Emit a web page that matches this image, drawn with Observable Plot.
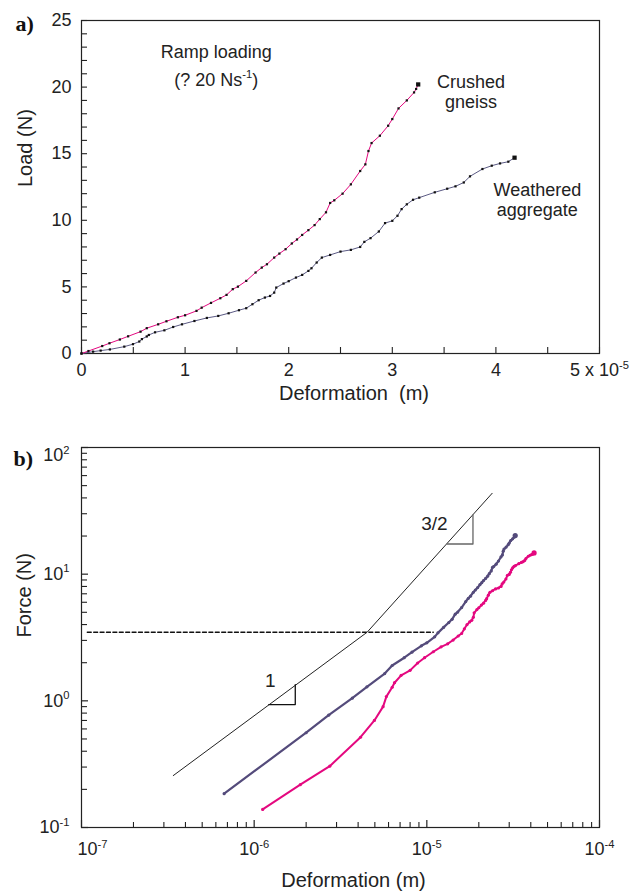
<!DOCTYPE html>
<html><head><meta charset="utf-8">
<script src="https://cdn.jsdelivr.net/npm/d3@7"></script>
<script src="https://cdn.jsdelivr.net/npm/@observablehq/plot@0.6"></script>
<style>
html,body{margin:0;padding:0;background:#fff;}
#wrap{position:relative;width:642px;height:892px;overflow:hidden;background:#fff;}
#wrap svg{position:absolute;left:0;}
</style></head><body><div id="wrap"></div>
<script>
// ---- data (deformation in units of 1e-5 m, load in N) ----
const gneissDef = [0, 0.067, 0.20, 0.27, 0.37, 0.45, 0.57, 0.63, 0.74, 0.82, 0.93, 1.00, 1.11, 1.16, 1.25, 1.34, 1.40, 1.46, 1.51, 1.59, 1.68, 1.74, 1.79, 1.86, 1.91, 1.97, 2.03, 2.08, 2.13, 2.19, 2.25, 2.30, 2.36, 2.40, 2.44, 2.52, 2.60, 2.69, 2.74, 2.77, 2.80, 2.88, 2.96, 3.00, 3.06, 3.14, 3.21, 3.23, 3.25];
const gneissLoad = [0, 0.185, 0.56, 0.77, 1.05, 1.29, 1.64, 1.90, 2.19, 2.42, 2.72, 2.87, 3.20, 3.44, 3.80, 4.15, 4.40, 4.83, 5.02, 5.45, 6.08, 6.45, 6.70, 7.20, 7.50, 7.83, 8.26, 8.56, 8.90, 9.26, 9.64, 10.09, 10.60, 11.30, 11.50, 12.00, 12.70, 13.70, 14.20, 15.20, 15.80, 16.35, 17.10, 17.60, 18.40, 19.00, 19.60, 19.86, 20.20];
const weatheredDef = [0, 0.112, 0.185, 0.274, 0.413, 0.497, 0.558, 0.583, 0.63, 0.65, 0.71, 0.80, 0.885, 0.97, 1.09, 1.21, 1.32, 1.42, 1.52, 1.59, 1.65, 1.71, 1.77, 1.82, 1.86, 1.88, 1.95, 2.00, 2.07, 2.13, 2.19, 2.22, 2.27, 2.32, 2.40, 2.50, 2.60, 2.69, 2.73, 2.79, 2.87, 2.93, 3.00, 3.05, 3.09, 3.14, 3.20, 3.26, 3.41, 3.53, 3.61, 3.69, 3.75, 3.87, 3.96, 4.04, 4.12, 4.18];
const weatheredLoad = [0, 0.139, 0.218, 0.305, 0.516, 0.70, 0.90, 1.08, 1.28, 1.39, 1.59, 1.74, 1.99, 2.19, 2.44, 2.67, 2.82, 3.02, 3.25, 3.40, 3.70, 4.00, 4.20, 4.32, 4.57, 4.95, 5.25, 5.43, 5.70, 5.90, 6.20, 6.40, 6.83, 7.20, 7.40, 7.65, 7.78, 8.00, 8.38, 8.66, 9.16, 9.79, 9.96, 10.34, 10.84, 11.20, 11.54, 11.70, 12.10, 12.37, 12.55, 12.84, 13.30, 13.85, 14.10, 14.27, 14.40, 14.70];

// guide lines of the log panel (deformation in m, force in N)
const guideDef = [3.4e-7, 4.51e-6, 2.39e-5];
const guideForce = [0.257, 3.48, 43.5];
const transitionForce = 3.48;
const transitionDef = [1.08e-7, 1.09e-5];
const slope1Def = [1.215e-6, 1.73e-6, 1.73e-6];
const slope1Force = [0.935, 0.935, 1.34];
const slope32Def = [1.31e-5, 1.85e-5, 1.85e-5];
const slope32Force = [17.3, 17.3, 29.4];

// tick values
const topXTicks = [0, 1, 2, 3, 4, 5];
const topYTicks = [0, 5, 10, 15, 20, 25];
const logXTicks = [1e-7, 1e-6, 1e-5, 1e-4];
const logYTicks = [0.1, 1, 10, 100];

// ---- build ----
const FONT = '"Liberation Sans", Arial, Helvetica, sans-serif';
const SERIF = '"Liberation Serif", "Times New Roman", serif';
const W = 642;
const MAGENTA = "#e4087f";
const PURPLE = "#544b7b";
const INK = "#222";

const gneiss = gneissDef.map((d, i) => ({def: d, load: gneissLoad[i]}));
const weathered = weatheredDef.map((d, i) => ({def: d, load: weatheredLoad[i]}));
const toLog = arr => arr.filter(d => d.def > 0).map(d => ({def: d.def * 1e-5, load: d.load}));
const gneissLog = toLog(gneiss);
const weatheredLog = toLog(weathered);
const guide = guideDef.map((d, i) => ({def: d, load: guideForce[i]}));
const dashed = transitionDef.map(d => ({def: d, load: transitionForce}));
const tri1 = slope1Def.map((d, i) => ({def: d, load: slope1Force[i]}));
const tri32 = slope32Def.map((d, i) => ({def: d, load: slope32Force[i]}));

const wrap = document.getElementById("wrap");

// --- panel a ---
const TH = 420, tTop = 20, tBottom = 67, tLeft = 81, tRight = 43;
const tInnerH = TH - tTop - tBottom, tInnerW = W - tLeft - tRight;
const topNotes = [
  {x: 1.30, y: 22.65, text: "Ramp loading"},
  {x: 1.30, y: 20.55, text: "(? 20 Ns^{-1})"},
  {x: 3.76, y: 20.40, text: "Crushed"},
  {x: 3.76, y: 18.90, text: "gneiss"},
  {x: 4.40, y: 12.28, text: "Weathered"},
  {x: 4.40, y: 10.77, text: "aggregate"}
];
const topPlot = Plot.plot({
  width: W, height: TH,
  marginLeft: tLeft, marginRight: tRight, marginTop: tTop, marginBottom: tBottom,
  style: {fontFamily: FONT, fontSize: "18px", color: INK, background: "#fff", overflow: "visible"},
  x: {domain: [0, 5]},
  y: {domain: [0, 25]},
  marks: [
    Plot.tickX(d3.range(0, 5.01, 0.5), {x: d => d, insetTop: tInnerH - 6, stroke: INK, strokeWidth: 1.1}),
    Plot.tickY(d3.range(0, 25.01, 1), {y: d => d, insetRight: tInnerW - 6, stroke: INK, strokeWidth: 1.1}),
    Plot.axisX(topXTicks, {tickSize: 0, tickPadding: 10, label: null, fontSize: 18,
      tickFormat: d => d === 5 ? "5 x 10^{-5}" : String(d)}),
    Plot.axisY(topYTicks, {tickSize: 0, tickPadding: 10, label: null, fontSize: 18, tickFormat: d => String(d)}),
    Plot.frame({stroke: INK, strokeWidth: 1.2}),
    Plot.line(weathered, {x: "def", y: "load", stroke: "#5b5a84", strokeWidth: 1}),
    Plot.line(gneiss, {x: "def", y: "load", stroke: MAGENTA, strokeWidth: 1}),
    Plot.dot(weathered, {x: "def", y: "load", symbol: "square", r: 1.25, fill: "#111"}),
    Plot.dot(gneiss, {x: "def", y: "load", symbol: "square", r: 1.25, fill: "#111"}),
    Plot.dot([weathered[weathered.length - 1], gneiss[gneiss.length - 1]], {x: "def", y: "load", symbol: "square", r: 2.4, fill: "#111"}),
    Plot.text(topNotes, {x: "x", y: "y", text: "text", fontSize: 18, fill: INK}),
    Plot.text(["Deformation \u00a0(m)"], {frameAnchor: "bottom", lineAnchor: "middle", dy: 40, dx: 13.5, text: d => d, fontSize: 20, fill: INK}),
    Plot.text(["Load (N)"], {frameAnchor: "left", lineAnchor: "middle", dx: -56, rotate: -90, text: d => d, fontSize: 20, fill: INK}),
    Plot.text(["a)"], {frameAnchor: "top-left", lineAnchor: "middle", dx: -66, dy: 3, textAnchor: "start", text: d => d,
      fontFamily: SERIF, fontWeight: "bold", fontSize: 22, fill: "#111"})
  ]
});
topPlot.style.top = "0px";
wrap.appendChild(topPlot);

// --- panel b ---
const BH = 472, bTop = 27, bBottom = 65, bLeft = 81, bRight = 43;
const bInnerH = BH - bTop - bBottom, bInnerW = W - bLeft - bRight;
const minorX = [], minorY = [];
for (let e = -7; e < -4; e++) for (let m = 2; m < 10; m++) minorX.push(m * Math.pow(10, e));
for (let e = -1; e < 2; e++) for (let m = 2; m < 10; m++) minorY.push(m * Math.pow(10, e));
const expFmt = d => `10^{${Math.round(Math.log10(d))}}`;
const botNotes = [
  {x: 1.24e-6, y: 1.445, text: "1"},
  {x: 1.107e-5, y: 25.1, text: "3/2"}
];
const botPlot = Plot.plot({
  width: W, height: BH,
  marginLeft: bLeft, marginRight: bRight, marginTop: bTop, marginBottom: bBottom,
  style: {fontFamily: FONT, fontSize: "18px", color: INK, background: "#fff", overflow: "visible"},
  x: {type: "log", domain: [1e-7, 1e-4]},
  y: {type: "log", domain: [0.1, 100]},
  marks: [
    Plot.tickX(minorX, {x: d => d, insetTop: bInnerH - 5, stroke: INK, strokeWidth: 1.1}),
    Plot.tickX(logXTicks, {x: d => d, insetTop: bInnerH - 7, stroke: INK, strokeWidth: 1.2}),
    Plot.tickY(minorY, {y: d => d, insetRight: bInnerW - 6, stroke: INK, strokeWidth: 1.1}),
    Plot.tickY(logYTicks, {y: d => d, insetRight: bInnerW - 7, stroke: INK, strokeWidth: 1.2}),
    Plot.axisX(logXTicks, {tickSize: 0, tickPadding: 15, label: null, fontSize: 18, tickFormat: expFmt}),
    Plot.axisY(logYTicks, {tickSize: 0, tickPadding: 12, label: null, fontSize: 18, tickFormat: expFmt}),
    Plot.frame({stroke: INK, strokeWidth: 1.2}),
    Plot.line(dashed, {x: "def", y: "load", stroke: "#111", strokeWidth: 1.3, strokeDasharray: "4,2.4"}),
    Plot.line(guide, {x: "def", y: "load", stroke: "#222", strokeWidth: 1}),
    Plot.line(tri1, {x: "def", y: "load", stroke: "#111", strokeWidth: 1.3}),
    Plot.line(tri32, {x: "def", y: "load", stroke: "#666", strokeWidth: 1.3}),
    Plot.line(weatheredLog, {x: "def", y: "load", stroke: MAGENTA, strokeWidth: 2}),
    Plot.dot(weatheredLog, {x: "def", y: "load", r: 1.6, fill: MAGENTA}),
    Plot.line(gneissLog, {x: "def", y: "load", stroke: PURPLE, strokeWidth: 2.2}),
    Plot.dot(gneissLog, {x: "def", y: "load", r: 1.6, fill: PURPLE}),
    Plot.dot([weatheredLog[weatheredLog.length - 1]], {x: "def", y: "load", r: 2.6, fill: MAGENTA}),
    Plot.dot([gneissLog[gneissLog.length - 1]], {x: "def", y: "load", r: 2.6, fill: PURPLE}),
    Plot.text(botNotes, {x: "x", y: "y", text: "text", fontSize: 19, fill: INK}),
    Plot.text(["Deformation (m)"], {frameAnchor: "bottom", lineAnchor: "middle", dy: 53, dx: 13, text: d => d, fontSize: 20, fill: INK}),
    Plot.text(["Force (N)"], {frameAnchor: "left", lineAnchor: "middle", dx: -57, rotate: -90, text: d => d, fontSize: 20, fill: INK}),
    Plot.text(["b)"], {frameAnchor: "top-left", lineAnchor: "middle", dx: -68, dy: 11, textAnchor: "start", text: d => d,
      fontFamily: SERIF, fontWeight: "bold", fontSize: 22, fill: "#111"})
  ]
});
botPlot.style.top = TH + "px";
wrap.appendChild(botPlot);

// --- superscripts for "^{...}" in text ---
function supify(svg) {
  d3.select(svg).selectAll("text").each(function () {
    const s = this.textContent;
    if (!s.includes("^{")) return;
    const fs = parseFloat(getComputedStyle(this).fontSize) || 18;
    if (s === "10^{-7}") this.setAttribute("transform", (this.getAttribute("transform") || "") + " translate(11,0)");
    if (s === "10^{2}") this.setAttribute("transform", (this.getAttribute("transform") || "") + " translate(0,8)");
    while (this.firstChild) this.removeChild(this.firstChild);
    const t = d3.select(this);
    const parts = s.split(/(\^\{[^}]*\})/);
    let raised = false;
    for (const p of parts) {
      if (!p) continue;
      if (p.startsWith("^{")) {
        t.append("tspan").attr("font-size", (fs * 0.62).toFixed(1)).attr("dy", (-fs * 0.42).toFixed(1)).text(p.slice(2, -1));
        raised = true;
      } else {
        const ts = t.append("tspan").text(p);
        if (raised) { ts.attr("dy", (fs * 0.42).toFixed(1)); raised = false; }
      }
    }
  });
}
supify(topPlot);
supify(botPlot);
</script>
</body></html>
